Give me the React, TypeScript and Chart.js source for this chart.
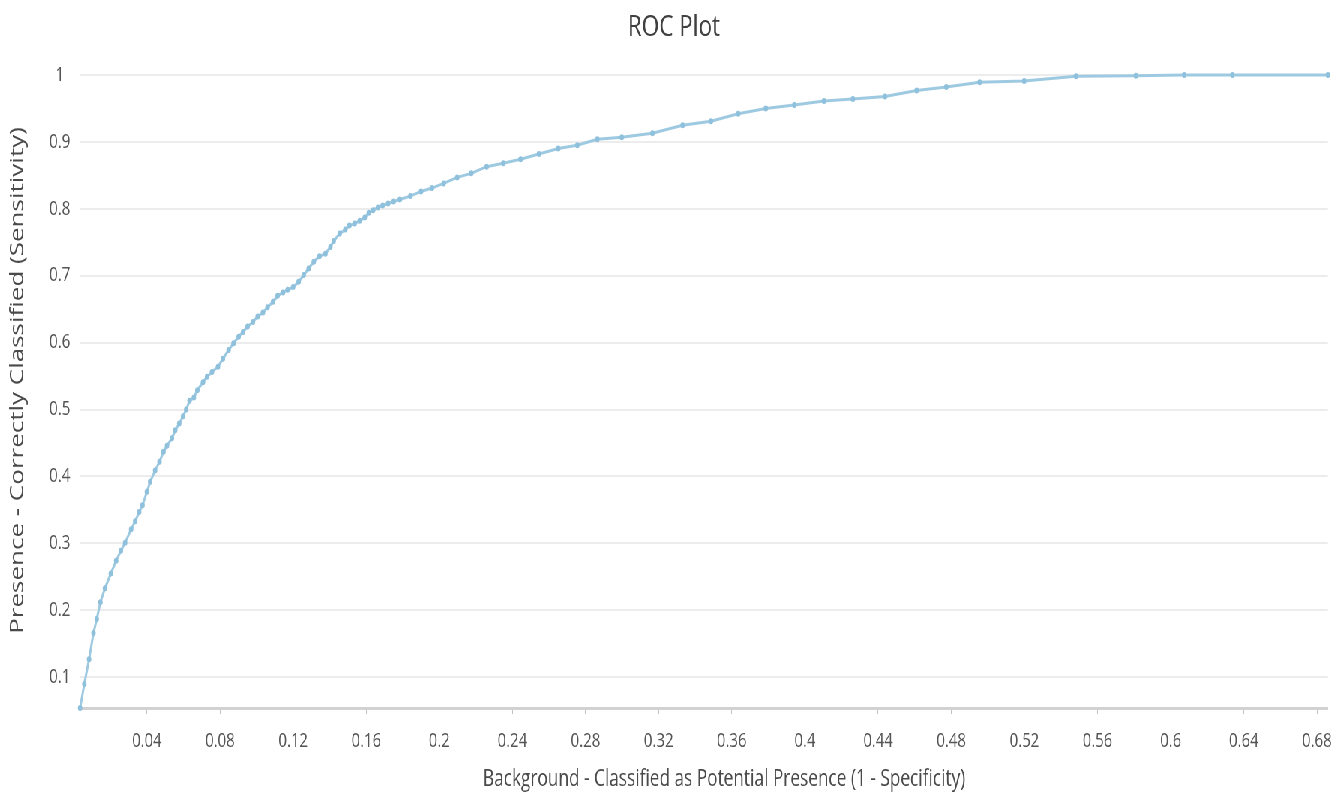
import React, { useEffect, useRef } from 'react';
import { Chart, registerables } from 'chart.js';

Chart.register(...registerables);

// ---- text ----
const CHART_TITLE = 'ROC Plot';
const X_TITLE = 'Background - Classified as Potential Presence (1 - Specificity)';
const Y_TITLE = 'Presence - Correctly Classified (Sensitivity)';

// ---- data: 1 - specificity (x) and sensitivity (y) ----
const falsePositiveRate = [
  0.0035, 0.0058, 0.0084, 0.0108, 0.0126, 0.0146, 0.0171, 0.0203, 0.0232, 0.0258,
  0.0281, 0.0314, 0.0336, 0.0358, 0.0376, 0.0400, 0.0418, 0.0445, 0.0469, 0.0491,
  0.0510, 0.0537, 0.0555, 0.0577, 0.0598, 0.0615, 0.0633, 0.0657, 0.0676, 0.0707,
  0.0729, 0.0756, 0.0789, 0.0816, 0.0847, 0.0874, 0.0902, 0.0926, 0.0951, 0.0980,
  0.1006, 0.1035, 0.1060, 0.1090, 0.1115, 0.1145, 0.1170, 0.1200, 0.1230, 0.1258,
  0.1285, 0.1313, 0.1344, 0.1377, 0.1404, 0.1422, 0.1455, 0.1486, 0.1508, 0.1537,
  0.1564, 0.1592, 0.1614, 0.1638, 0.1664, 0.1690, 0.1720, 0.1750, 0.1784, 0.1842,
  0.1900, 0.1960, 0.2024, 0.2098, 0.2175, 0.2259, 0.2350, 0.2445, 0.2545, 0.2651,
  0.2755, 0.2865, 0.2998, 0.3166, 0.3331, 0.3486, 0.3635, 0.3786, 0.3942, 0.4104,
  0.4262, 0.4438, 0.4611, 0.4773, 0.4955, 0.5199, 0.5482, 0.5810, 0.6074, 0.6338,
  0.6860,
];

const sensitivity = [
  0.054, 0.090, 0.127, 0.166, 0.187, 0.212, 0.233, 0.255, 0.274, 0.289,
  0.301, 0.321, 0.333, 0.347, 0.357, 0.377, 0.392, 0.409, 0.422, 0.437,
  0.446, 0.457, 0.469, 0.479, 0.490, 0.500, 0.513, 0.518, 0.529, 0.541,
  0.549, 0.556, 0.564, 0.576, 0.589, 0.599, 0.609, 0.616, 0.624, 0.631,
  0.639, 0.645, 0.653, 0.661, 0.670, 0.675, 0.679, 0.683, 0.691, 0.701,
  0.711, 0.721, 0.729, 0.733, 0.743, 0.752, 0.763, 0.769, 0.775, 0.778,
  0.782, 0.787, 0.794, 0.798, 0.802, 0.805, 0.808, 0.811, 0.814, 0.819,
  0.826, 0.831, 0.838, 0.847, 0.853, 0.863, 0.868, 0.874, 0.882, 0.890,
  0.895, 0.904, 0.907, 0.913, 0.925, 0.931, 0.942, 0.950, 0.955, 0.961,
  0.964, 0.968, 0.977, 0.982, 0.989, 0.991, 0.998, 0.999, 1.000, 1.000,
  1.000,
];

// ---- tick labels ----
const xTickValues = [0.04, 0.08, 0.12, 0.16, 0.2, 0.24, 0.28, 0.32, 0.36, 0.4, 0.44, 0.48, 0.52, 0.56, 0.6, 0.64, 0.68];
const yTickValues = [0.1, 0.2, 0.3, 0.4, 0.5, 0.6, 0.7, 0.8, 0.9, 1];

// ---- styling ----
const FONT = '"Open Sans", "Noto Sans", sans-serif';
const LINE_COLOR = '#9ecae1';
const POINT_COLOR = '#8fc1dd';
const TEXT_COLOR = '#555555';
const TITLE_COLOR = '#404040';
const SQUEEZE = 0.75; // the reference is horizontally condensed
const VIEW_W = 1341;
const VIEW_H = 796;
const CANVAS_W = Math.round(VIEW_W / SQUEEZE);

const fmt = (v: number) => String(+Number(v).toFixed(2));

const axisTitlePlugin = {
  id: 'axisTitles',
  afterDraw(chart: any) {
    const { ctx, chartArea } = chart;
    ctx.save();
    ctx.fillStyle = '#4a4a4a';
    ctx.textAlign = 'center';
    ctx.textBaseline = 'middle';
    ctx.font = `23px ${FONT}`;
    ctx.fillText(X_TITLE, (chartArea.left + chartArea.right) / 2 + 27, chartArea.bottom + 71);
    ctx.translate(24, (chartArea.top + chartArea.bottom) / 2 - 11);
    ctx.rotate(-Math.PI / 2);
    ctx.font = `26px ${FONT}`;
    ctx.fillText(Y_TITLE, 0, 0);
    ctx.restore();
  },
};

export default function App() {
  const canvasRef = useRef<HTMLCanvasElement>(null);

  useEffect(() => {
    const points = falsePositiveRate.map((x, i) => ({ x, y: sensitivity[i] }));
    const chart = new Chart(canvasRef.current as HTMLCanvasElement, {
      type: 'line',
      data: {
        datasets: [
          {
            data: points,
            borderColor: LINE_COLOR,
            backgroundColor: POINT_COLOR,
            borderWidth: 3,
            pointRadius: 3,
            pointBorderWidth: 0,
            pointBackgroundColor: POINT_COLOR,
            pointHoverRadius: 3,
            tension: 0,
            clip: false as any,
          },
        ],
      },
      options: {
        animation: false,
        responsive: true,
        maintainAspectRatio: false,
        layout: { padding: { left: 26.7, right: 17.3, top: 0, bottom: 0 } },
        plugins: {
          legend: { display: false },
          tooltip: { enabled: false },
          title: {
            display: true,
            text: CHART_TITLE,
            color: TITLE_COLOR,
            font: { family: FONT, size: 30, weight: 'normal' },
            padding: { top: 9, bottom: 30 },
          },
        },
        scales: {
          x: {
            type: 'linear',
            min: Math.min(...falsePositiveRate),
            max: Math.max(...falsePositiveRate),
            afterBuildTicks: (s: any) => {
              s.ticks = xTickValues.map((value) => ({ value }));
            },
            afterFit: (s: any) => {
              s.height = 88;
              s.paddingLeft = 0;
              s.paddingRight = 0;
            },
            grid: { drawOnChartArea: false, drawTicks: true, tickLength: 6, color: '#c2c2c2', lineWidth: 1 },
            border: { display: true, color: '#d2d2d2', width: 3 },
            ticks: {
              color: TEXT_COLOR,
              font: { family: FONT, size: 20 },
              padding: 15,
              maxRotation: 0,
              autoSkip: false,
              callback: (v: any) => fmt(v),
            },
          },
          y: {
            type: 'linear',
            min: Math.min(...sensitivity),
            max: 1,
            afterBuildTicks: (s: any) => {
              s.ticks = yTickValues.map((value) => ({ value }));
            },
            afterFit: (s: any) => {
              s.width = 80;
              s.paddingTop = 0;
              s.paddingBottom = 0;
            },
            grid: { color: '#ececec', lineWidth: 2, drawTicks: false },
            border: { display: false },
            ticks: {
              color: TEXT_COLOR,
              font: { family: FONT, size: 20 },
              padding: 13,
              crossAlign: 'center',
              autoSkip: false,
              callback: (v: any) => fmt(v),
            },
          },
        },
      } as any,
      plugins: [axisTitlePlugin],
    });
    return () => chart.destroy();
  }, []);

  return (
    <div
      style={{
        position: 'fixed',
        left: 0,
        top: 0,
        width: CANVAS_W,
        height: VIEW_H,
        transform: `scaleX(${SQUEEZE})`,
        transformOrigin: '0 0',
        background: '#ffffff',
      }}
    >
      <canvas ref={canvasRef} />
    </div>
  );
}
